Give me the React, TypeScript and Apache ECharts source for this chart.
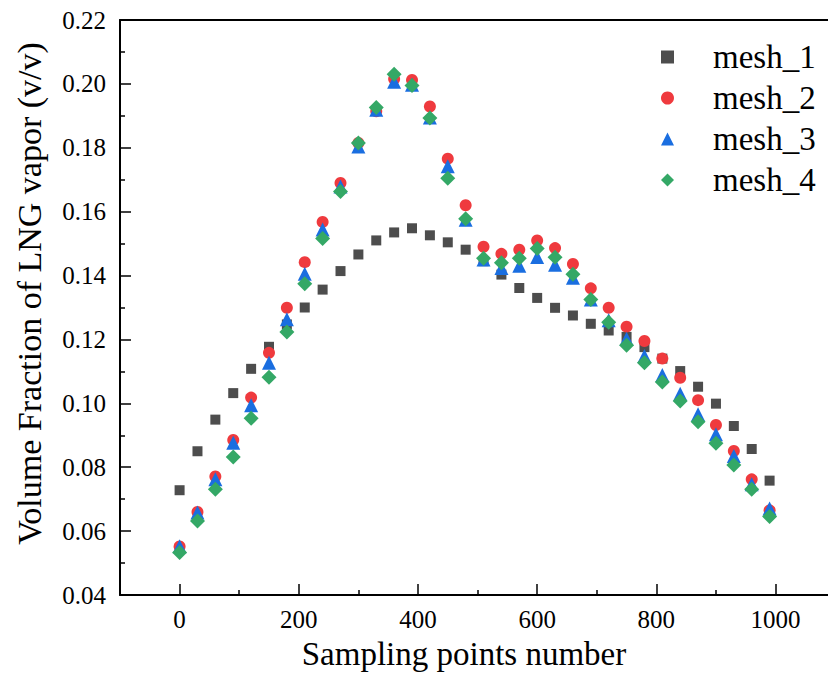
import React, { useEffect, useRef } from "react";
import * as echarts from "echarts";

const samplingPoints = [0, 30, 60, 90, 120, 150, 180, 210, 240, 270, 300, 330, 360, 390, 420, 450, 480, 510, 540, 570, 600, 630, 660, 690, 720, 750, 780, 810, 840, 870, 900, 930, 960, 990];
const mesh1 = [0.0728, 0.085, 0.0949, 0.1032, 0.1108, 0.1177, 0.1247, 0.130, 0.1356, 0.1414, 0.1466, 0.151, 0.1535, 0.1548, 0.1526, 0.1504, 0.1481, 0.1445, 0.1403, 0.1361, 0.133, 0.1299, 0.1275, 0.1249, 0.1228, 0.1208, 0.1176, 0.114, 0.1101, 0.1052, 0.0999, 0.0929, 0.0857, 0.0758];
const mesh2 = [0.0552, 0.066, 0.0771, 0.0885, 0.1018, 0.1158, 0.1299, 0.1442, 0.1568, 0.169, 0.1815, 0.1914, 0.2015, 0.2012, 0.1929, 0.1766, 0.162, 0.149, 0.1468, 0.1481, 0.151, 0.1486, 0.1436, 0.136, 0.1299, 0.124, 0.1195, 0.114, 0.108, 0.101, 0.0932, 0.0851, 0.0762, 0.0665];
const mesh3 = [0.0553, 0.0658, 0.0762, 0.0877, 0.0994, 0.1127, 0.1263, 0.1406, 0.1544, 0.1679, 0.1804, 0.1919, 0.2007, 0.1997, 0.1895, 0.1742, 0.1575, 0.145, 0.1424, 0.1431, 0.1458, 0.1434, 0.1393, 0.1325, 0.126, 0.1202, 0.1148, 0.1089, 0.103, 0.0966, 0.0903, 0.0835, 0.0747, 0.0671];
const mesh4 = [0.0533, 0.0632, 0.0731, 0.0832, 0.0953, 0.1082, 0.1223, 0.1374, 0.1516, 0.1663, 0.1815, 0.1926, 0.203, 0.1995, 0.1893, 0.1705, 0.1578, 0.1454, 0.144, 0.1454, 0.1485, 0.1457, 0.1404, 0.1325, 0.1254, 0.1182, 0.1127, 0.1067, 0.1007, 0.0942, 0.0875, 0.0807, 0.0731, 0.0646];

const seriesNames = ["mesh_1", "mesh_2", "mesh_3", "mesh_4"];
const xMajorTicks = [0, 200, 400, 600, 800, 1000];
const xMinorTicks = [100, 300, 500, 700, 900];

const FONT = "Liberation Serif";

export default function App() {
  const ref = useRef<HTMLDivElement>(null);
  useEffect(() => {
    if (!ref.current) return;
    const chart = echarts.init(ref.current, null, { renderer: "svg" });
    const pair = (ys: number[]) => samplingPoints.map((x, i) => [x, ys[i]]);
    const axisLineStyle = { color: "#000", width: 2 };
    chart.setOption({
      animation: false,
      backgroundColor: "#fff",
      textStyle: { fontFamily: FONT },
      grid: { left: 120, right: 0, top: 20, bottom: 79, containLabel: false },
      legend: {
        orient: "vertical",
        left: 656,
        top: 35,
        itemWidth: 13,
        itemHeight: 13,
        itemGap: 7,
        data: seriesNames,
        textStyle: {
          fontFamily: FONT,
          fontSize: 33,
          color: "#000",
          lineHeight: 34,
          padding: [0, 0, 0, 34],
        },
      },
      xAxis: [
        {
          type: "value",
          min: -100,
          max: 1088,
          position: "bottom",
          name: "Sampling points number",
          nameLocation: "middle",
          nameGap: 42,
          nameTextStyle: { fontFamily: FONT, fontSize: 33, color: "#000", padding: [0, 20, 0, 0] },
          axisLine: { show: true, onZero: false, lineStyle: axisLineStyle },
          axisTick: { show: true, inside: true, length: 11, lineStyle: { color: "#000", width: 1.5 }, customValues: xMajorTicks },
          axisLabel: {
            show: true,
            fontFamily: FONT,
            fontSize: 25,
            color: "#000",
            margin: 12,
            customValues: xMajorTicks,
            formatter: (v: number) => String(v),
          },
          splitLine: { show: false },
        },
        {
          type: "value",
          min: -100,
          max: 1088,
          position: "bottom",
          axisLine: { show: false, onZero: false },
          axisTick: { show: true, inside: true, length: 5, lineStyle: { color: "#000", width: 1.5 }, customValues: xMinorTicks },
          axisLabel: { show: false },
          splitLine: { show: false },
        },
        {
          type: "value",
          min: -100,
          max: 1088,
          position: "top",
          axisLine: { show: true, onZero: false, lineStyle: axisLineStyle },
          axisTick: { show: false },
          axisLabel: { show: false },
          splitLine: { show: false },
        },
      ],
      yAxis: {
        type: "value",
        min: 0.04,
        max: 0.22,
        interval: 0.02,
        name: "Volume Fraction of LNG vapor (v/v)",
        nameLocation: "middle",
        nameGap: 74,
        nameTextStyle: { fontFamily: FONT, fontSize: 34, color: "#000", padding: [0, 0, 0, 28] },
        axisLine: { show: true, onZero: false, lineStyle: axisLineStyle },
        axisTick: { show: true, inside: true, length: 11, lineStyle: { color: "#000", width: 1.5 } },
        minorTick: { show: true, splitNumber: 2, length: 5, lineStyle: { color: "#000", width: 1.5 } },
        axisLabel: {
          fontFamily: FONT,
          fontSize: 25,
          color: "#000",
          margin: 14,
          formatter: (v: number) => v.toFixed(2),
        },
        splitLine: { show: false },
      },
      series: [
        { name: "mesh_1", type: "scatter", symbol: "rect", symbolSize: 10, itemStyle: { color: "#4d4d4d", opacity: 1 }, data: pair(mesh1) },
        { name: "mesh_2", type: "scatter", symbol: "circle", symbolSize: 12, itemStyle: { color: "#ef3a3e", opacity: 1 }, data: pair(mesh2) },
        { name: "mesh_3", type: "scatter", symbol: "triangle", symbolSize: 14, itemStyle: { color: "#1a6ee0", opacity: 1 }, data: pair(mesh3) },
        { name: "mesh_4", type: "scatter", symbol: "diamond", symbolSize: 15, itemStyle: { color: "#34a866", opacity: 1 }, data: pair(mesh4) },
      ],
    });
    return () => chart.dispose();
  }, []);
  return <div ref={ref} style={{ position: "absolute", left: 0, top: 0, width: 828, height: 675 }} />;
}
